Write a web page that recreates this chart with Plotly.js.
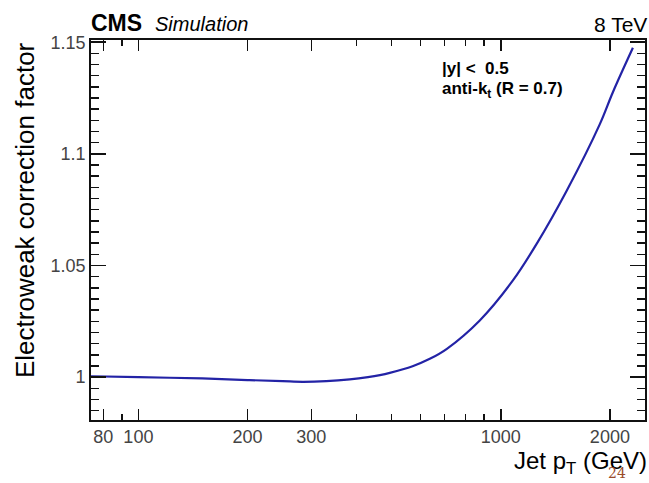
<!DOCTYPE html>
<html>
<head>
<meta charset="utf-8">
<script src="https://cdn.plot.ly/plotly-3.0.1.min.js"></script>
<style>
  html, body { margin: 0; padding: 0; background: #fff; }
  #chart { width: 649px; height: 483px; }
</style>
</head>
<body>
<div id="chart"></div>
<script>
// Jet pT (GeV)
const jetPt = [74, 100, 150, 200, 250, 284, 330, 383, 430, 464, 494, 571, 637, 710, 875, 1080, 1257, 1520, 1875, 2037, 2315];
// Electroweak correction factor
const ewkFactor = [1.0004, 1.0000, 0.9994, 0.9987, 0.9982, 0.9979, 0.9982, 0.9990, 1.0000, 1.0009, 1.0019, 1.0049, 1.0082, 1.0127, 1.0254, 1.0433, 1.0598, 1.0835, 1.1132, 1.1275, 1.1475];

const xTickVals = [80, 100, 200, 300, 1000, 2000];
const xTickText = ['80', '100', '200', '300', '1000', '2000'];
const xMinorVals = [90, 400, 500, 600, 700, 800, 900];
const yTickVals = [1, 1.05, 1.1, 1.15];
const yTickText = ['1', '1.05', '1.1', '1.15'];

const font = 'Liberation Sans, Arial, sans-serif';

const trace = {
  x: jetPt,
  y: ewkFactor,
  type: 'scatter',
  mode: 'lines',
  line: { color: '#2323a6', width: 2.2, shape: 'spline', smoothing: 1 },
  hoverinfo: 'skip',
  showlegend: false
};

const layout = {
  width: 649,
  height: 483,
  margin: { l: 91, r: 4, t: 40, b: 63 },
  paper_bgcolor: '#ffffff',
  plot_bgcolor: '#ffffff',
  font: { family: font, color: '#000' },
  xaxis: {
    type: 'log',
    range: [Math.log10(74), Math.log10(2500)],
    tickmode: 'array',
    tickvals: xTickVals,
    ticktext: xTickText,
    ticks: 'inside',
    ticklen: 11,
    tickwidth: 1.5,
    tickcolor: '#111',
    showline: true,
    linecolor: '#111',
    linewidth: 1.8,
    mirror: 'ticks',
    showgrid: false,
    zeroline: false,
    tickfont: { family: font, size: 18, color: '#444' },
    minor: { tickmode: 'array', tickvals: xMinorVals, ticks: 'inside', ticklen: 6, tickwidth: 1.5, tickcolor: '#111', showgrid: false }
  },
  yaxis: {
    range: [0.9808, 1.151],
    tickmode: 'array',
    tickvals: yTickVals,
    ticktext: yTickText,
    ticks: 'inside',
    ticklen: 15,
    tickwidth: 1.5,
    tickcolor: '#111',
    showline: true,
    linecolor: '#111',
    linewidth: 1.8,
    mirror: 'ticks',
    showgrid: false,
    zeroline: false,
    tickfont: { family: font, size: 18, color: '#444' },
    minor: { dtick: 0.005, tick0: 1, ticks: 'inside', ticklen: 8, tickwidth: 1.5, tickcolor: '#111', showgrid: false }
  },
  annotations: [
    { text: '<b>CMS</b>', xref: 'paper', yref: 'paper', x: 0, y: 1, xanchor: 'left', yanchor: 'bottom', yshift: 2, xshift: -2,
      showarrow: false, font: { family: font, size: 23, color: '#000' } },
    { text: '<i>Simulation</i>', xref: 'paper', yref: 'paper', x: 0, y: 1, xanchor: 'left', yanchor: 'bottom', yshift: 3, xshift: 62,
      showarrow: false, font: { family: font, size: 20, color: '#000' } },
    { text: '8 TeV', xref: 'paper', yref: 'paper', x: 1, y: 1, xanchor: 'right', yanchor: 'bottom', yshift: 2, xshift: 4,
      showarrow: false, font: { family: font, size: 21, color: '#000' } },
    { text: 'Electroweak correction factor', xref: 'paper', yref: 'paper', x: 0, y: 1, xanchor: 'center', yanchor: 'top', xshift: -66,
      textangle: -90, showarrow: false, font: { family: font, size: 26, color: '#000' } },
    { text: 'Jet p<sub>T</sub> (GeV)', xref: 'paper', yref: 'paper', x: 1, y: 0, xanchor: 'right', yanchor: 'top', yshift: -25, xshift: 4,
      showarrow: false, font: { family: font, size: 24, color: '#000' } },
    { text: '<b>|y| &lt;  0.5</b>', xref: 'paper', yref: 'paper', x: 0, y: 1, xanchor: 'left', yanchor: 'middle', xshift: 349, yshift: -28,
      showarrow: false, font: { family: font, size: 17, color: '#000' } },
    { text: '<b>anti-k<sub>t</sub> (R = 0.7)</b>', xref: 'paper', yref: 'paper', x: 0, y: 1, xanchor: 'left', yanchor: 'middle', xshift: 349, yshift: -50,
      showarrow: false, font: { family: font, size: 17, color: '#000' } },
    { text: '24', xref: 'paper', yref: 'paper', x: 1, y: 0, xanchor: 'right', yanchor: 'bottom', xshift: -17, yshift: -63,
      showarrow: false, font: { family: 'DejaVu Serif, Liberation Serif, serif', size: 14, color: '#9a4a2a' } }
  ]
};

Plotly.newPlot('chart', [trace], layout, { displayModeBar: false, staticPlot: true });
</script>
</body>
</html>
